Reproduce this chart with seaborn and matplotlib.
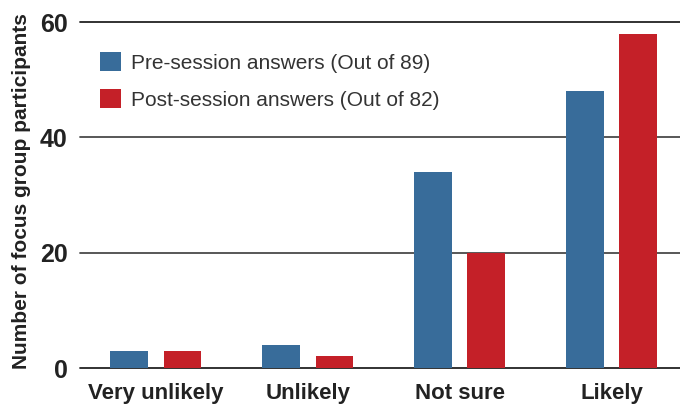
import matplotlib
matplotlib.use("Agg")
import matplotlib.pyplot as plt
import seaborn as sns
import pandas as pd

categories = ["Very unlikely", "Unlikely", "Not sure", "Likely"]
series_names = ["Pre-session answers (Out of 89)", "Post-session answers (Out of 82)"]
pre_values = [3, 4, 34, 48]
post_values = [3, 2, 20, 58]
y_ticks = [0, 20, 40, 60]
colors = ["#386c9a", "#c42028"]

df = pd.DataFrame({
    "category": categories * 2,
    "series": [series_names[0]] * 4 + [series_names[1]] * 4,
    "value": pre_values + post_values,
})

sns.set_theme(style="white")
plt.rcParams["font.family"] = ["Liberation Sans", "DejaVu Sans"]

fig = plt.figure(figsize=(6.8, 4.05), dpi=100)
ax = fig.add_axes([80 / 680, 1 - 368 / 405, 600 / 680, 346 / 405])

for y in y_ticks:
    ax.axhline(y, color="#4a4a4a" if y not in (0, 60) else "#222222", lw=1.3, zorder=0, clip_on=False)

sns.barplot(data=df, x="category", y="value", hue="series", order=categories,
            hue_order=series_names, palette=colors, width=0.7, gap=0.29,
            saturation=1, ax=ax, zorder=2, legend=True, linewidth=0, edgecolor="none")

ax.set_xlim(-0.5, 3.45)
ax.set_ylim(0, 60)
ax.set_yticks(y_ticks)
ax.set_yticklabels([str(v) for v in y_ticks], fontsize=18, fontweight="bold", color="#222222")
ax.set_xticks(range(len(categories)))
ax.set_xticklabels(categories, fontsize=16, fontweight="bold", color="#222222")
ax.tick_params(axis="both", length=0)
ax.tick_params(axis="y", pad=9)
ax.tick_params(axis="x", pad=11)
ax.set_xlabel("")
ax.set_ylabel("Number of focus group participants", fontsize=15, fontweight="bold",
              color="#222222")
ax.yaxis.set_label_coords(-0.082, 0.51)
for s in ax.spines.values():
    s.set_visible(False)

leg = ax.legend(loc="upper left", bbox_to_anchor=(0.033, 0.913), frameon=False,
                fontsize=15, handlelength=1.0, handleheight=1.0, handletextpad=0.5,
                labelspacing=0.8, borderaxespad=0, borderpad=0)
for t in leg.get_texts():
    t.set_color("#333333")

fig.savefig("out.png", dpi=100)
